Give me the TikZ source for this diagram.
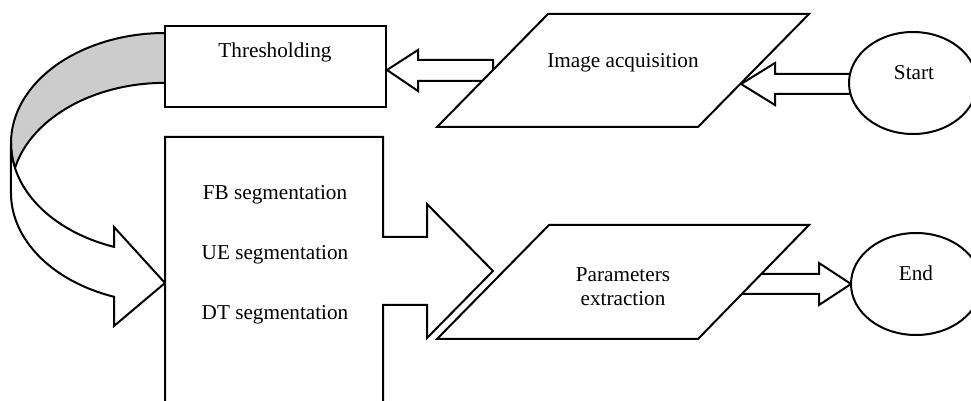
\documentclass[tikz,border=0pt]{standalone}
\usepackage{fontspec}
\setmainfont{Liberation Serif}
\usepackage{tikz}

\begin{document}
\begin{tikzpicture}[x=0.5pt,y=-0.5pt,line width=1pt,
		box/.style={draw,fill=white},
		lbl/.style={font=\fontsize{10.6}{12}\selectfont,inner sep=0pt}]
		\useasboundingbox (0,0) rectangle (971,401);
		\clip (0,0) rectangle (971,401);
		
		% curved arrow from thresholding down to the segmentation box
		\draw[fill=black!20] (165,33) arc[start angle=270,end angle=166.9,x radius=154,y radius=110]
			arc[start angle=193.1,end angle=270,x radius=154,y radius=110] -- cycle;
		\draw[box] (15,168) arc[start angle=166.9,end angle=109.3,x radius=154,y radius=110]
			-- (114,227) -- (165,283) -- (114,326) -- (114.1,296.8)
			arc[start angle=109.3,end angle=180,x radius=154,y radius=110]
			-- (11,143) arc[start angle=180,end angle=166.9,x radius=154,y radius=110] -- cycle;
		
		% boxes and block arrows
		\draw[box] (165,26) rectangle (386,107);
		\draw[box] (387,70) -- (418,50) -- (418,60) -- (493,60) -- (493,81) -- (418,81) -- (418,91) -- cycle;
		\draw[box] (741,84) -- (775,63) -- (775,74) -- (870,74) -- (870,94) -- (775,94) -- (775,105) -- cycle;
		\draw[box] (548,14) -- (809,14) -- (698,127) -- (437,127) -- cycle;
		\draw[box] (913,83) ellipse[x radius=64,y radius=51];
		
		\draw[box] (165,410) -- (165,137) -- (383,137) -- (383,237) -- (427,237) -- (427,204) -- (493,271)
			-- (427,338) -- (427,305) -- (383,305) -- (383,410);
		\draw[box] (730,274) -- (819,274) -- (819,263) -- (851,284) -- (819,305) -- (819,294) -- (730,294) -- cycle;
		\draw[box] (549,225) -- (809,225) -- (698,339) -- (437,339) -- cycle;
		\draw[box] (916,284) ellipse[x radius=65,y radius=51];
		
		\node[lbl] (thr) at (275,52) {Thresholding};
		\node[lbl] (acq) at (623,63) {Image acquisition};
		\node[lbl] (start) at (914,73) {Start};
		\node[lbl] (fb) at (275,195) {FB segmentation};
		\node[lbl] (ue) at (275,255) {UE segmentation};
		\node[lbl] (dt) at (275,315) {DT segmentation};
		\node[lbl,align=center] (par) at (623,287) {Parameters\\extraction};
		\node[lbl] (end) at (916,273) {End};
	\end{tikzpicture}
\end{document}
